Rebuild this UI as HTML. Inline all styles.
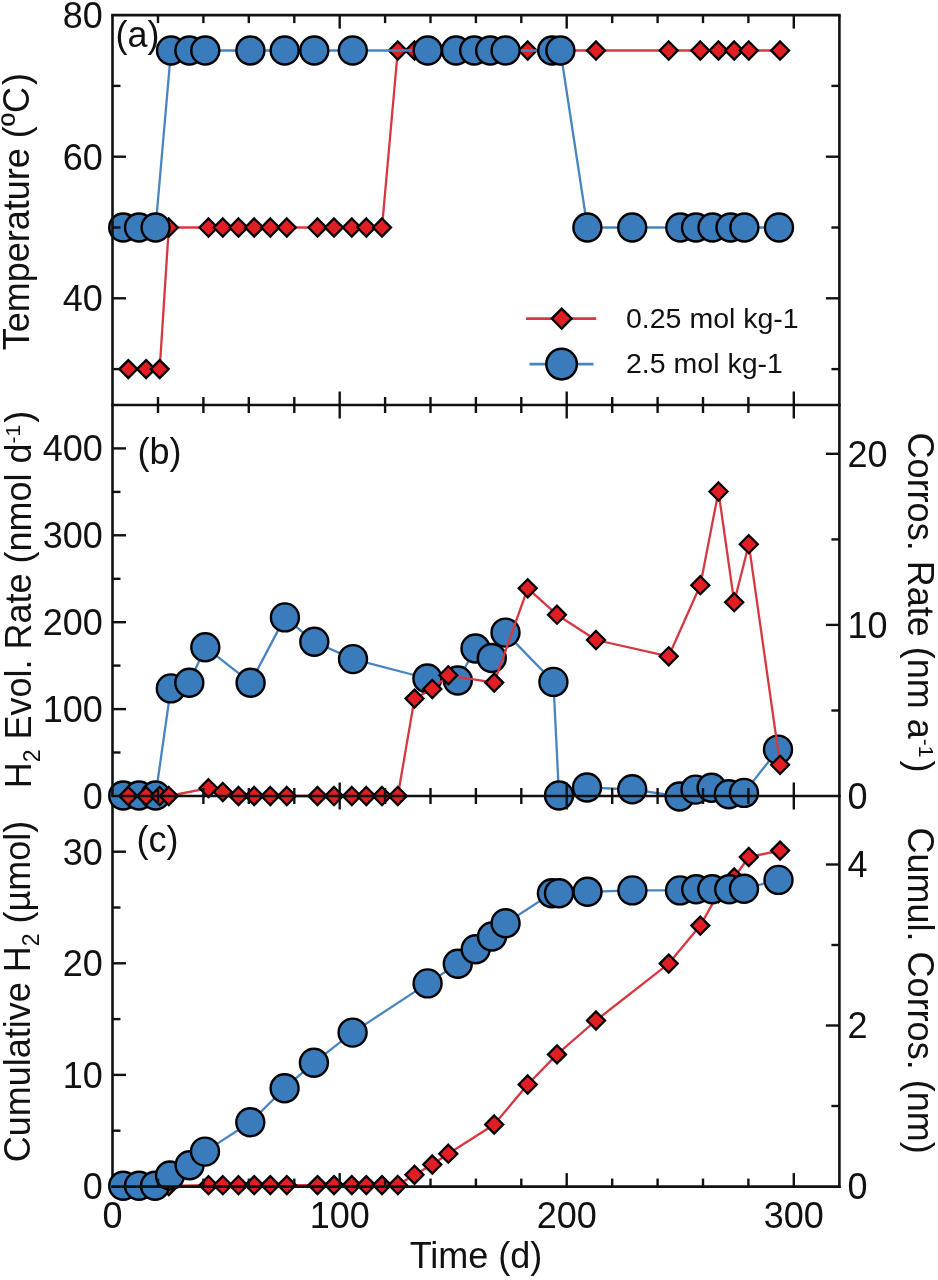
<!DOCTYPE html>
<html><head><meta charset="utf-8"><title>Figure</title>
<style>html,body{margin:0;padding:0;background:#fff;width:938px;height:1280px;overflow:hidden;font-family:"Liberation Sans",sans-serif;}svg{display:block;filter:blur(0.5px);}</style>
</head><body>
<svg width="938" height="1280" viewBox="0 0 938 1280">
<rect width="938" height="1280" fill="#fff"/>
<g font-family="Liberation Sans, sans-serif" fill="#111">
<line x1="112.5" y1="796.0" x2="112.5" y2="1187.9" stroke="#111" stroke-width="2.6"/>
<polyline points="128.3,369.1 146.1,369.1 159.7,369.1 168.8,227.5 208.5,227.5 222.8,227.5 238.5,227.5 254.2,227.5 270.3,227.5 286.8,227.5 317.5,227.5 334.0,227.5 351.8,227.5 366.3,227.5 382.0,227.5 397.8,50.5 414.5,50.5 432.3,50.5 448.3,50.5 494.2,50.5 527.7,50.5 557.0,50.5 596.0,50.5 668.7,50.5 700.3,50.5 718.5,50.5 734.2,50.5 748.8,50.5 780.1,50.5" fill="none" stroke="#d63841" stroke-width="2.3" stroke-linejoin="round"/>
<path d="M128.3 360.1L137.3 369.1L128.3 378.1L119.3 369.1Z" fill="#e01e24" stroke="#000" stroke-width="2.3" stroke-linejoin="miter"/>
<path d="M146.1 360.1L155.1 369.1L146.1 378.1L137.1 369.1Z" fill="#e01e24" stroke="#000" stroke-width="2.3" stroke-linejoin="miter"/>
<path d="M159.7 360.1L168.7 369.1L159.7 378.1L150.7 369.1Z" fill="#e01e24" stroke="#000" stroke-width="2.3" stroke-linejoin="miter"/>
<path d="M168.8 218.5L177.8 227.5L168.8 236.5L159.8 227.5Z" fill="#e01e24" stroke="#000" stroke-width="2.3" stroke-linejoin="miter"/>
<path d="M208.5 218.5L217.5 227.5L208.5 236.5L199.5 227.5Z" fill="#e01e24" stroke="#000" stroke-width="2.3" stroke-linejoin="miter"/>
<path d="M222.8 218.5L231.8 227.5L222.8 236.5L213.8 227.5Z" fill="#e01e24" stroke="#000" stroke-width="2.3" stroke-linejoin="miter"/>
<path d="M238.5 218.5L247.5 227.5L238.5 236.5L229.5 227.5Z" fill="#e01e24" stroke="#000" stroke-width="2.3" stroke-linejoin="miter"/>
<path d="M254.2 218.5L263.2 227.5L254.2 236.5L245.2 227.5Z" fill="#e01e24" stroke="#000" stroke-width="2.3" stroke-linejoin="miter"/>
<path d="M270.3 218.5L279.3 227.5L270.3 236.5L261.3 227.5Z" fill="#e01e24" stroke="#000" stroke-width="2.3" stroke-linejoin="miter"/>
<path d="M286.8 218.5L295.8 227.5L286.8 236.5L277.8 227.5Z" fill="#e01e24" stroke="#000" stroke-width="2.3" stroke-linejoin="miter"/>
<path d="M317.5 218.5L326.5 227.5L317.5 236.5L308.5 227.5Z" fill="#e01e24" stroke="#000" stroke-width="2.3" stroke-linejoin="miter"/>
<path d="M334.0 218.5L343.0 227.5L334.0 236.5L325.0 227.5Z" fill="#e01e24" stroke="#000" stroke-width="2.3" stroke-linejoin="miter"/>
<path d="M351.8 218.5L360.8 227.5L351.8 236.5L342.8 227.5Z" fill="#e01e24" stroke="#000" stroke-width="2.3" stroke-linejoin="miter"/>
<path d="M366.3 218.5L375.3 227.5L366.3 236.5L357.3 227.5Z" fill="#e01e24" stroke="#000" stroke-width="2.3" stroke-linejoin="miter"/>
<path d="M382.0 218.5L391.0 227.5L382.0 236.5L373.0 227.5Z" fill="#e01e24" stroke="#000" stroke-width="2.3" stroke-linejoin="miter"/>
<path d="M397.8 41.5L406.8 50.5L397.8 59.5L388.8 50.5Z" fill="#e01e24" stroke="#000" stroke-width="2.3" stroke-linejoin="miter"/>
<path d="M414.5 41.5L423.5 50.5L414.5 59.5L405.5 50.5Z" fill="#e01e24" stroke="#000" stroke-width="2.3" stroke-linejoin="miter"/>
<path d="M432.3 41.5L441.3 50.5L432.3 59.5L423.3 50.5Z" fill="#e01e24" stroke="#000" stroke-width="2.3" stroke-linejoin="miter"/>
<path d="M448.3 41.5L457.3 50.5L448.3 59.5L439.3 50.5Z" fill="#e01e24" stroke="#000" stroke-width="2.3" stroke-linejoin="miter"/>
<path d="M494.2 41.5L503.2 50.5L494.2 59.5L485.2 50.5Z" fill="#e01e24" stroke="#000" stroke-width="2.3" stroke-linejoin="miter"/>
<path d="M527.7 41.5L536.7 50.5L527.7 59.5L518.7 50.5Z" fill="#e01e24" stroke="#000" stroke-width="2.3" stroke-linejoin="miter"/>
<path d="M557.0 41.5L566.0 50.5L557.0 59.5L548.0 50.5Z" fill="#e01e24" stroke="#000" stroke-width="2.3" stroke-linejoin="miter"/>
<path d="M596.0 41.5L605.0 50.5L596.0 59.5L587.0 50.5Z" fill="#e01e24" stroke="#000" stroke-width="2.3" stroke-linejoin="miter"/>
<path d="M668.7 41.5L677.7 50.5L668.7 59.5L659.7 50.5Z" fill="#e01e24" stroke="#000" stroke-width="2.3" stroke-linejoin="miter"/>
<path d="M700.3 41.5L709.3 50.5L700.3 59.5L691.3 50.5Z" fill="#e01e24" stroke="#000" stroke-width="2.3" stroke-linejoin="miter"/>
<path d="M718.5 41.5L727.5 50.5L718.5 59.5L709.5 50.5Z" fill="#e01e24" stroke="#000" stroke-width="2.3" stroke-linejoin="miter"/>
<path d="M734.2 41.5L743.2 50.5L734.2 59.5L725.2 50.5Z" fill="#e01e24" stroke="#000" stroke-width="2.3" stroke-linejoin="miter"/>
<path d="M748.8 41.5L757.8 50.5L748.8 59.5L739.8 50.5Z" fill="#e01e24" stroke="#000" stroke-width="2.3" stroke-linejoin="miter"/>
<path d="M780.1 41.5L789.1 50.5L780.1 59.5L771.1 50.5Z" fill="#e01e24" stroke="#000" stroke-width="2.3" stroke-linejoin="miter"/>
<polyline points="123.2,227.5 139.0,227.5 155.6,227.5 171.0,50.5 189.4,50.5 205.3,50.5 250.4,50.5 284.7,50.5 314.3,50.5 352.8,50.5 427.7,50.5 456.0,50.5 474.2,50.5 490.2,50.5 505.6,50.5 552.2,50.5 560.4,50.5 587.4,227.5 632.2,227.5 680.3,227.5 696.0,227.5 712.5,227.5 730.5,227.5 744.4,227.5 779.0,227.5" fill="none" stroke="#4a84c0" stroke-width="2.3" stroke-linejoin="round"/>
<circle cx="123.2" cy="227.5" r="14.0" fill="#3a7bbb" stroke="#000" stroke-width="2.4"/>
<circle cx="139.0" cy="227.5" r="14.0" fill="#3a7bbb" stroke="#000" stroke-width="2.4"/>
<circle cx="155.6" cy="227.5" r="14.0" fill="#3a7bbb" stroke="#000" stroke-width="2.4"/>
<circle cx="171.0" cy="50.5" r="14.0" fill="#3a7bbb" stroke="#000" stroke-width="2.4"/>
<circle cx="189.4" cy="50.5" r="14.0" fill="#3a7bbb" stroke="#000" stroke-width="2.4"/>
<circle cx="205.3" cy="50.5" r="14.0" fill="#3a7bbb" stroke="#000" stroke-width="2.4"/>
<circle cx="250.4" cy="50.5" r="14.0" fill="#3a7bbb" stroke="#000" stroke-width="2.4"/>
<circle cx="284.7" cy="50.5" r="14.0" fill="#3a7bbb" stroke="#000" stroke-width="2.4"/>
<circle cx="314.3" cy="50.5" r="14.0" fill="#3a7bbb" stroke="#000" stroke-width="2.4"/>
<circle cx="352.8" cy="50.5" r="14.0" fill="#3a7bbb" stroke="#000" stroke-width="2.4"/>
<circle cx="427.7" cy="50.5" r="14.0" fill="#3a7bbb" stroke="#000" stroke-width="2.4"/>
<circle cx="456.0" cy="50.5" r="14.0" fill="#3a7bbb" stroke="#000" stroke-width="2.4"/>
<circle cx="474.2" cy="50.5" r="14.0" fill="#3a7bbb" stroke="#000" stroke-width="2.4"/>
<circle cx="490.2" cy="50.5" r="14.0" fill="#3a7bbb" stroke="#000" stroke-width="2.4"/>
<circle cx="505.6" cy="50.5" r="14.0" fill="#3a7bbb" stroke="#000" stroke-width="2.4"/>
<circle cx="552.2" cy="50.5" r="14.0" fill="#3a7bbb" stroke="#000" stroke-width="2.4"/>
<circle cx="560.4" cy="50.5" r="14.0" fill="#3a7bbb" stroke="#000" stroke-width="2.4"/>
<circle cx="587.4" cy="227.5" r="14.0" fill="#3a7bbb" stroke="#000" stroke-width="2.4"/>
<circle cx="632.2" cy="227.5" r="14.0" fill="#3a7bbb" stroke="#000" stroke-width="2.4"/>
<circle cx="680.3" cy="227.5" r="14.0" fill="#3a7bbb" stroke="#000" stroke-width="2.4"/>
<circle cx="696.0" cy="227.5" r="14.0" fill="#3a7bbb" stroke="#000" stroke-width="2.4"/>
<circle cx="712.5" cy="227.5" r="14.0" fill="#3a7bbb" stroke="#000" stroke-width="2.4"/>
<circle cx="730.5" cy="227.5" r="14.0" fill="#3a7bbb" stroke="#000" stroke-width="2.4"/>
<circle cx="744.4" cy="227.5" r="14.0" fill="#3a7bbb" stroke="#000" stroke-width="2.4"/>
<circle cx="779.0" cy="227.5" r="14.0" fill="#3a7bbb" stroke="#000" stroke-width="2.4"/>
<polyline points="123.2,795.5 139.0,795.5 155.6,795.5 170.8,688.4 189.3,682.7 205.3,647.2 250.6,682.7 284.9,617.4 314.3,641.8 353.0,659.1 427.4,678.5 457.8,680.5 475.5,648.5 491.8,658.0 505.5,632.6 553.4,681.9 559.0,795.5 587.0,787.5 632.2,789.3 679.6,796.5 695.5,789.6 711.6,787.8 728.8,794.2 744.0,792.9 778.0,749.6" fill="none" stroke="#4a84c0" stroke-width="2.3" stroke-linejoin="round"/>
<circle cx="123.2" cy="795.5" r="14.0" fill="#3a7bbb" stroke="#000" stroke-width="2.4"/>
<circle cx="139.0" cy="795.5" r="14.0" fill="#3a7bbb" stroke="#000" stroke-width="2.4"/>
<circle cx="155.6" cy="795.5" r="14.0" fill="#3a7bbb" stroke="#000" stroke-width="2.4"/>
<circle cx="170.8" cy="688.4" r="14.0" fill="#3a7bbb" stroke="#000" stroke-width="2.4"/>
<circle cx="189.3" cy="682.7" r="14.0" fill="#3a7bbb" stroke="#000" stroke-width="2.4"/>
<circle cx="205.3" cy="647.2" r="14.0" fill="#3a7bbb" stroke="#000" stroke-width="2.4"/>
<circle cx="250.6" cy="682.7" r="14.0" fill="#3a7bbb" stroke="#000" stroke-width="2.4"/>
<circle cx="284.9" cy="617.4" r="14.0" fill="#3a7bbb" stroke="#000" stroke-width="2.4"/>
<circle cx="314.3" cy="641.8" r="14.0" fill="#3a7bbb" stroke="#000" stroke-width="2.4"/>
<circle cx="353.0" cy="659.1" r="14.0" fill="#3a7bbb" stroke="#000" stroke-width="2.4"/>
<circle cx="427.4" cy="678.5" r="14.0" fill="#3a7bbb" stroke="#000" stroke-width="2.4"/>
<circle cx="457.8" cy="680.5" r="14.0" fill="#3a7bbb" stroke="#000" stroke-width="2.4"/>
<circle cx="475.5" cy="648.5" r="14.0" fill="#3a7bbb" stroke="#000" stroke-width="2.4"/>
<circle cx="491.8" cy="658.0" r="14.0" fill="#3a7bbb" stroke="#000" stroke-width="2.4"/>
<circle cx="505.5" cy="632.6" r="14.0" fill="#3a7bbb" stroke="#000" stroke-width="2.4"/>
<circle cx="553.4" cy="681.9" r="14.0" fill="#3a7bbb" stroke="#000" stroke-width="2.4"/>
<circle cx="559.0" cy="795.5" r="14.0" fill="#3a7bbb" stroke="#000" stroke-width="2.4"/>
<circle cx="587.0" cy="787.5" r="14.0" fill="#3a7bbb" stroke="#000" stroke-width="2.4"/>
<circle cx="632.2" cy="789.3" r="14.0" fill="#3a7bbb" stroke="#000" stroke-width="2.4"/>
<circle cx="679.6" cy="796.5" r="14.0" fill="#3a7bbb" stroke="#000" stroke-width="2.4"/>
<circle cx="695.5" cy="789.6" r="14.0" fill="#3a7bbb" stroke="#000" stroke-width="2.4"/>
<circle cx="711.6" cy="787.8" r="14.0" fill="#3a7bbb" stroke="#000" stroke-width="2.4"/>
<circle cx="728.8" cy="794.2" r="14.0" fill="#3a7bbb" stroke="#000" stroke-width="2.4"/>
<circle cx="744.0" cy="792.9" r="14.0" fill="#3a7bbb" stroke="#000" stroke-width="2.4"/>
<circle cx="778.0" cy="749.6" r="14.0" fill="#3a7bbb" stroke="#000" stroke-width="2.4"/>
<polyline points="128.3,796.0 146.1,796.0 159.7,796.0 168.8,796.0 208.5,788.2 222.8,792.0 238.5,796.0 254.2,796.0 270.3,796.0 286.8,796.0 317.5,796.0 334.0,796.0 351.8,796.0 366.3,796.0 382.0,796.0 397.8,796.0 414.5,698.6 432.3,689.0 448.3,675.3 494.2,682.6 527.7,588.3 557.0,614.7 596.0,640.0 668.7,656.3 700.3,585.2 718.5,491.5 734.2,602.2 748.8,544.2 780.1,764.8" fill="none" stroke="#d63841" stroke-width="2.3" stroke-linejoin="round"/>
<path d="M128.3 787.0L137.3 796.0L128.3 805.0L119.3 796.0Z" fill="#e01e24" stroke="#000" stroke-width="2.3" stroke-linejoin="miter"/>
<path d="M146.1 787.0L155.1 796.0L146.1 805.0L137.1 796.0Z" fill="#e01e24" stroke="#000" stroke-width="2.3" stroke-linejoin="miter"/>
<path d="M159.7 787.0L168.7 796.0L159.7 805.0L150.7 796.0Z" fill="#e01e24" stroke="#000" stroke-width="2.3" stroke-linejoin="miter"/>
<path d="M168.8 787.0L177.8 796.0L168.8 805.0L159.8 796.0Z" fill="#e01e24" stroke="#000" stroke-width="2.3" stroke-linejoin="miter"/>
<path d="M208.5 779.2L217.5 788.2L208.5 797.2L199.5 788.2Z" fill="#e01e24" stroke="#000" stroke-width="2.3" stroke-linejoin="miter"/>
<path d="M222.8 783.0L231.8 792.0L222.8 801.0L213.8 792.0Z" fill="#e01e24" stroke="#000" stroke-width="2.3" stroke-linejoin="miter"/>
<path d="M238.5 787.0L247.5 796.0L238.5 805.0L229.5 796.0Z" fill="#e01e24" stroke="#000" stroke-width="2.3" stroke-linejoin="miter"/>
<path d="M254.2 787.0L263.2 796.0L254.2 805.0L245.2 796.0Z" fill="#e01e24" stroke="#000" stroke-width="2.3" stroke-linejoin="miter"/>
<path d="M270.3 787.0L279.3 796.0L270.3 805.0L261.3 796.0Z" fill="#e01e24" stroke="#000" stroke-width="2.3" stroke-linejoin="miter"/>
<path d="M286.8 787.0L295.8 796.0L286.8 805.0L277.8 796.0Z" fill="#e01e24" stroke="#000" stroke-width="2.3" stroke-linejoin="miter"/>
<path d="M317.5 787.0L326.5 796.0L317.5 805.0L308.5 796.0Z" fill="#e01e24" stroke="#000" stroke-width="2.3" stroke-linejoin="miter"/>
<path d="M334.0 787.0L343.0 796.0L334.0 805.0L325.0 796.0Z" fill="#e01e24" stroke="#000" stroke-width="2.3" stroke-linejoin="miter"/>
<path d="M351.8 787.0L360.8 796.0L351.8 805.0L342.8 796.0Z" fill="#e01e24" stroke="#000" stroke-width="2.3" stroke-linejoin="miter"/>
<path d="M366.3 787.0L375.3 796.0L366.3 805.0L357.3 796.0Z" fill="#e01e24" stroke="#000" stroke-width="2.3" stroke-linejoin="miter"/>
<path d="M382.0 787.0L391.0 796.0L382.0 805.0L373.0 796.0Z" fill="#e01e24" stroke="#000" stroke-width="2.3" stroke-linejoin="miter"/>
<path d="M397.8 787.0L406.8 796.0L397.8 805.0L388.8 796.0Z" fill="#e01e24" stroke="#000" stroke-width="2.3" stroke-linejoin="miter"/>
<path d="M414.5 689.6L423.5 698.6L414.5 707.6L405.5 698.6Z" fill="#e01e24" stroke="#000" stroke-width="2.3" stroke-linejoin="miter"/>
<path d="M432.3 680.0L441.3 689.0L432.3 698.0L423.3 689.0Z" fill="#e01e24" stroke="#000" stroke-width="2.3" stroke-linejoin="miter"/>
<path d="M448.3 666.3L457.3 675.3L448.3 684.3L439.3 675.3Z" fill="#e01e24" stroke="#000" stroke-width="2.3" stroke-linejoin="miter"/>
<path d="M494.2 673.6L503.2 682.6L494.2 691.6L485.2 682.6Z" fill="#e01e24" stroke="#000" stroke-width="2.3" stroke-linejoin="miter"/>
<path d="M527.7 579.3L536.7 588.3L527.7 597.3L518.7 588.3Z" fill="#e01e24" stroke="#000" stroke-width="2.3" stroke-linejoin="miter"/>
<path d="M557.0 605.7L566.0 614.7L557.0 623.7L548.0 614.7Z" fill="#e01e24" stroke="#000" stroke-width="2.3" stroke-linejoin="miter"/>
<path d="M596.0 631.0L605.0 640.0L596.0 649.0L587.0 640.0Z" fill="#e01e24" stroke="#000" stroke-width="2.3" stroke-linejoin="miter"/>
<path d="M668.7 647.3L677.7 656.3L668.7 665.3L659.7 656.3Z" fill="#e01e24" stroke="#000" stroke-width="2.3" stroke-linejoin="miter"/>
<path d="M700.3 576.2L709.3 585.2L700.3 594.2L691.3 585.2Z" fill="#e01e24" stroke="#000" stroke-width="2.3" stroke-linejoin="miter"/>
<path d="M718.5 482.5L727.5 491.5L718.5 500.5L709.5 491.5Z" fill="#e01e24" stroke="#000" stroke-width="2.3" stroke-linejoin="miter"/>
<path d="M734.2 593.2L743.2 602.2L734.2 611.2L725.2 602.2Z" fill="#e01e24" stroke="#000" stroke-width="2.3" stroke-linejoin="miter"/>
<path d="M748.8 535.2L757.8 544.2L748.8 553.2L739.8 544.2Z" fill="#e01e24" stroke="#000" stroke-width="2.3" stroke-linejoin="miter"/>
<path d="M780.1 755.8L789.1 764.8L780.1 773.8L771.1 764.8Z" fill="#e01e24" stroke="#000" stroke-width="2.3" stroke-linejoin="miter"/>
<polyline points="128.3,1186.0 146.1,1186.0 159.7,1186.0 168.8,1186.0 208.5,1185.2 222.8,1185.2 238.5,1185.2 254.2,1185.1 270.3,1185.1 286.8,1185.1 317.5,1185.1 334.0,1185.1 351.8,1185.1 366.3,1185.1 382.0,1185.1 397.8,1185.0 414.5,1174.8 432.3,1164.5 448.3,1153.7 494.2,1124.5 527.7,1084.5 557.0,1054.4 596.0,1020.5 668.7,963.6 700.3,925.6 718.5,893.0 734.2,877.5 748.8,857.0 780.1,850.6" fill="none" stroke="#d63841" stroke-width="2.3" stroke-linejoin="round"/>
<path d="M128.3 1177.0L137.3 1186.0L128.3 1195.0L119.3 1186.0Z" fill="#e01e24" stroke="#000" stroke-width="2.3" stroke-linejoin="miter"/>
<path d="M146.1 1177.0L155.1 1186.0L146.1 1195.0L137.1 1186.0Z" fill="#e01e24" stroke="#000" stroke-width="2.3" stroke-linejoin="miter"/>
<path d="M159.7 1177.0L168.7 1186.0L159.7 1195.0L150.7 1186.0Z" fill="#e01e24" stroke="#000" stroke-width="2.3" stroke-linejoin="miter"/>
<path d="M168.8 1177.0L177.8 1186.0L168.8 1195.0L159.8 1186.0Z" fill="#e01e24" stroke="#000" stroke-width="2.3" stroke-linejoin="miter"/>
<path d="M208.5 1176.2L217.5 1185.2L208.5 1194.2L199.5 1185.2Z" fill="#e01e24" stroke="#000" stroke-width="2.3" stroke-linejoin="miter"/>
<path d="M222.8 1176.2L231.8 1185.2L222.8 1194.2L213.8 1185.2Z" fill="#e01e24" stroke="#000" stroke-width="2.3" stroke-linejoin="miter"/>
<path d="M238.5 1176.2L247.5 1185.2L238.5 1194.2L229.5 1185.2Z" fill="#e01e24" stroke="#000" stroke-width="2.3" stroke-linejoin="miter"/>
<path d="M254.2 1176.1L263.2 1185.1L254.2 1194.1L245.2 1185.1Z" fill="#e01e24" stroke="#000" stroke-width="2.3" stroke-linejoin="miter"/>
<path d="M270.3 1176.1L279.3 1185.1L270.3 1194.1L261.3 1185.1Z" fill="#e01e24" stroke="#000" stroke-width="2.3" stroke-linejoin="miter"/>
<path d="M286.8 1176.1L295.8 1185.1L286.8 1194.1L277.8 1185.1Z" fill="#e01e24" stroke="#000" stroke-width="2.3" stroke-linejoin="miter"/>
<path d="M317.5 1176.1L326.5 1185.1L317.5 1194.1L308.5 1185.1Z" fill="#e01e24" stroke="#000" stroke-width="2.3" stroke-linejoin="miter"/>
<path d="M334.0 1176.1L343.0 1185.1L334.0 1194.1L325.0 1185.1Z" fill="#e01e24" stroke="#000" stroke-width="2.3" stroke-linejoin="miter"/>
<path d="M351.8 1176.1L360.8 1185.1L351.8 1194.1L342.8 1185.1Z" fill="#e01e24" stroke="#000" stroke-width="2.3" stroke-linejoin="miter"/>
<path d="M366.3 1176.1L375.3 1185.1L366.3 1194.1L357.3 1185.1Z" fill="#e01e24" stroke="#000" stroke-width="2.3" stroke-linejoin="miter"/>
<path d="M382.0 1176.1L391.0 1185.1L382.0 1194.1L373.0 1185.1Z" fill="#e01e24" stroke="#000" stroke-width="2.3" stroke-linejoin="miter"/>
<path d="M397.8 1176.0L406.8 1185.0L397.8 1194.0L388.8 1185.0Z" fill="#e01e24" stroke="#000" stroke-width="2.3" stroke-linejoin="miter"/>
<path d="M414.5 1165.8L423.5 1174.8L414.5 1183.8L405.5 1174.8Z" fill="#e01e24" stroke="#000" stroke-width="2.3" stroke-linejoin="miter"/>
<path d="M432.3 1155.5L441.3 1164.5L432.3 1173.5L423.3 1164.5Z" fill="#e01e24" stroke="#000" stroke-width="2.3" stroke-linejoin="miter"/>
<path d="M448.3 1144.7L457.3 1153.7L448.3 1162.7L439.3 1153.7Z" fill="#e01e24" stroke="#000" stroke-width="2.3" stroke-linejoin="miter"/>
<path d="M494.2 1115.5L503.2 1124.5L494.2 1133.5L485.2 1124.5Z" fill="#e01e24" stroke="#000" stroke-width="2.3" stroke-linejoin="miter"/>
<path d="M527.7 1075.5L536.7 1084.5L527.7 1093.5L518.7 1084.5Z" fill="#e01e24" stroke="#000" stroke-width="2.3" stroke-linejoin="miter"/>
<path d="M557.0 1045.4L566.0 1054.4L557.0 1063.4L548.0 1054.4Z" fill="#e01e24" stroke="#000" stroke-width="2.3" stroke-linejoin="miter"/>
<path d="M596.0 1011.5L605.0 1020.5L596.0 1029.5L587.0 1020.5Z" fill="#e01e24" stroke="#000" stroke-width="2.3" stroke-linejoin="miter"/>
<path d="M668.7 954.6L677.7 963.6L668.7 972.6L659.7 963.6Z" fill="#e01e24" stroke="#000" stroke-width="2.3" stroke-linejoin="miter"/>
<path d="M700.3 916.6L709.3 925.6L700.3 934.6L691.3 925.6Z" fill="#e01e24" stroke="#000" stroke-width="2.3" stroke-linejoin="miter"/>
<path d="M718.5 884.0L727.5 893.0L718.5 902.0L709.5 893.0Z" fill="#e01e24" stroke="#000" stroke-width="2.3" stroke-linejoin="miter"/>
<path d="M734.2 868.5L743.2 877.5L734.2 886.5L725.2 877.5Z" fill="#e01e24" stroke="#000" stroke-width="2.3" stroke-linejoin="miter"/>
<path d="M748.8 848.0L757.8 857.0L748.8 866.0L739.8 857.0Z" fill="#e01e24" stroke="#000" stroke-width="2.3" stroke-linejoin="miter"/>
<path d="M780.1 841.6L789.1 850.6L780.1 859.6L771.1 850.6Z" fill="#e01e24" stroke="#000" stroke-width="2.3" stroke-linejoin="miter"/>
<polyline points="123.2,1185.8 139.0,1185.8 155.0,1185.8 170.0,1175.5 189.6,1165.3 205.0,1151.6 250.3,1122.2 284.6,1088.2 313.9,1062.7 352.6,1032.6 427.6,983.4 457.8,963.8 475.7,949.3 492.0,936.5 505.6,923.3 551.9,893.2 559.0,893.2 587.5,891.8 632.4,890.4 680.0,890.4 696.2,889.3 712.3,889.3 729.2,889.3 744.0,888.8 778.5,879.9" fill="none" stroke="#4a84c0" stroke-width="2.3" stroke-linejoin="round"/>
<circle cx="123.2" cy="1185.8" r="14.0" fill="#3a7bbb" stroke="#000" stroke-width="2.4"/>
<circle cx="139.0" cy="1185.8" r="14.0" fill="#3a7bbb" stroke="#000" stroke-width="2.4"/>
<circle cx="155.0" cy="1185.8" r="14.0" fill="#3a7bbb" stroke="#000" stroke-width="2.4"/>
<circle cx="170.0" cy="1175.5" r="14.0" fill="#3a7bbb" stroke="#000" stroke-width="2.4"/>
<circle cx="189.6" cy="1165.3" r="14.0" fill="#3a7bbb" stroke="#000" stroke-width="2.4"/>
<circle cx="205.0" cy="1151.6" r="14.0" fill="#3a7bbb" stroke="#000" stroke-width="2.4"/>
<circle cx="250.3" cy="1122.2" r="14.0" fill="#3a7bbb" stroke="#000" stroke-width="2.4"/>
<circle cx="284.6" cy="1088.2" r="14.0" fill="#3a7bbb" stroke="#000" stroke-width="2.4"/>
<circle cx="313.9" cy="1062.7" r="14.0" fill="#3a7bbb" stroke="#000" stroke-width="2.4"/>
<circle cx="352.6" cy="1032.6" r="14.0" fill="#3a7bbb" stroke="#000" stroke-width="2.4"/>
<circle cx="427.6" cy="983.4" r="14.0" fill="#3a7bbb" stroke="#000" stroke-width="2.4"/>
<circle cx="457.8" cy="963.8" r="14.0" fill="#3a7bbb" stroke="#000" stroke-width="2.4"/>
<circle cx="475.7" cy="949.3" r="14.0" fill="#3a7bbb" stroke="#000" stroke-width="2.4"/>
<circle cx="492.0" cy="936.5" r="14.0" fill="#3a7bbb" stroke="#000" stroke-width="2.4"/>
<circle cx="505.6" cy="923.3" r="14.0" fill="#3a7bbb" stroke="#000" stroke-width="2.4"/>
<circle cx="551.9" cy="893.2" r="14.0" fill="#3a7bbb" stroke="#000" stroke-width="2.4"/>
<circle cx="559.0" cy="893.2" r="14.0" fill="#3a7bbb" stroke="#000" stroke-width="2.4"/>
<circle cx="587.5" cy="891.8" r="14.0" fill="#3a7bbb" stroke="#000" stroke-width="2.4"/>
<circle cx="632.4" cy="890.4" r="14.0" fill="#3a7bbb" stroke="#000" stroke-width="2.4"/>
<circle cx="680.0" cy="890.4" r="14.0" fill="#3a7bbb" stroke="#000" stroke-width="2.4"/>
<circle cx="696.2" cy="889.3" r="14.0" fill="#3a7bbb" stroke="#000" stroke-width="2.4"/>
<circle cx="712.3" cy="889.3" r="14.0" fill="#3a7bbb" stroke="#000" stroke-width="2.4"/>
<circle cx="729.2" cy="889.3" r="14.0" fill="#3a7bbb" stroke="#000" stroke-width="2.4"/>
<circle cx="744.0" cy="888.8" r="14.0" fill="#3a7bbb" stroke="#000" stroke-width="2.4"/>
<circle cx="778.5" cy="879.9" r="14.0" fill="#3a7bbb" stroke="#000" stroke-width="2.4"/>
<line x1="111.2" y1="15.1" x2="840.7" y2="15.1" stroke="#111" stroke-width="2.6"/>
<line x1="112.5" y1="15.1" x2="112.5" y2="796.0" stroke="#111" stroke-width="2.6"/>
<line x1="839.4" y1="15.1" x2="839.4" y2="1187.9" stroke="#111" stroke-width="2.6"/>
<line x1="111.2" y1="405.0" x2="840.7" y2="405.0" stroke="#111" stroke-width="2.6"/>
<line x1="111.2" y1="796.0" x2="840.7" y2="796.0" stroke="#111" stroke-width="2.6"/>
<line x1="111.2" y1="1186.6" x2="840.7" y2="1186.6" stroke="#111" stroke-width="2.6"/>
<line x1="158.0" y1="15.1" x2="158.0" y2="23.1" stroke="#111" stroke-width="2.4"/>
<line x1="158.0" y1="405.0" x2="158.0" y2="397.0" stroke="#111" stroke-width="2.4"/>
<line x1="203.4" y1="15.1" x2="203.4" y2="23.1" stroke="#111" stroke-width="2.4"/>
<line x1="203.4" y1="405.0" x2="203.4" y2="397.0" stroke="#111" stroke-width="2.4"/>
<line x1="248.8" y1="15.1" x2="248.8" y2="23.1" stroke="#111" stroke-width="2.4"/>
<line x1="248.8" y1="405.0" x2="248.8" y2="397.0" stroke="#111" stroke-width="2.4"/>
<line x1="294.3" y1="15.1" x2="294.3" y2="23.1" stroke="#111" stroke-width="2.4"/>
<line x1="294.3" y1="405.0" x2="294.3" y2="397.0" stroke="#111" stroke-width="2.4"/>
<line x1="339.7" y1="15.1" x2="339.7" y2="28.6" stroke="#111" stroke-width="2.4"/>
<line x1="339.7" y1="405.0" x2="339.7" y2="391.5" stroke="#111" stroke-width="2.4"/>
<line x1="385.1" y1="15.1" x2="385.1" y2="23.1" stroke="#111" stroke-width="2.4"/>
<line x1="385.1" y1="405.0" x2="385.1" y2="397.0" stroke="#111" stroke-width="2.4"/>
<line x1="430.5" y1="15.1" x2="430.5" y2="23.1" stroke="#111" stroke-width="2.4"/>
<line x1="430.5" y1="405.0" x2="430.5" y2="397.0" stroke="#111" stroke-width="2.4"/>
<line x1="475.9" y1="15.1" x2="475.9" y2="23.1" stroke="#111" stroke-width="2.4"/>
<line x1="475.9" y1="405.0" x2="475.9" y2="397.0" stroke="#111" stroke-width="2.4"/>
<line x1="521.3" y1="15.1" x2="521.3" y2="23.1" stroke="#111" stroke-width="2.4"/>
<line x1="521.3" y1="405.0" x2="521.3" y2="397.0" stroke="#111" stroke-width="2.4"/>
<line x1="566.7" y1="15.1" x2="566.7" y2="28.6" stroke="#111" stroke-width="2.4"/>
<line x1="566.7" y1="405.0" x2="566.7" y2="391.5" stroke="#111" stroke-width="2.4"/>
<line x1="612.2" y1="15.1" x2="612.2" y2="23.1" stroke="#111" stroke-width="2.4"/>
<line x1="612.2" y1="405.0" x2="612.2" y2="397.0" stroke="#111" stroke-width="2.4"/>
<line x1="657.6" y1="15.1" x2="657.6" y2="23.1" stroke="#111" stroke-width="2.4"/>
<line x1="657.6" y1="405.0" x2="657.6" y2="397.0" stroke="#111" stroke-width="2.4"/>
<line x1="703.0" y1="15.1" x2="703.0" y2="23.1" stroke="#111" stroke-width="2.4"/>
<line x1="703.0" y1="405.0" x2="703.0" y2="397.0" stroke="#111" stroke-width="2.4"/>
<line x1="748.4" y1="15.1" x2="748.4" y2="23.1" stroke="#111" stroke-width="2.4"/>
<line x1="748.4" y1="405.0" x2="748.4" y2="397.0" stroke="#111" stroke-width="2.4"/>
<line x1="793.8" y1="15.1" x2="793.8" y2="28.6" stroke="#111" stroke-width="2.4"/>
<line x1="793.8" y1="405.0" x2="793.8" y2="391.5" stroke="#111" stroke-width="2.4"/>
<line x1="158.0" y1="405.0" x2="158.0" y2="413.0" stroke="#111" stroke-width="2.4"/>
<line x1="158.0" y1="796.0" x2="158.0" y2="788.0" stroke="#111" stroke-width="2.4"/>
<line x1="203.4" y1="405.0" x2="203.4" y2="413.0" stroke="#111" stroke-width="2.4"/>
<line x1="203.4" y1="796.0" x2="203.4" y2="788.0" stroke="#111" stroke-width="2.4"/>
<line x1="248.8" y1="405.0" x2="248.8" y2="413.0" stroke="#111" stroke-width="2.4"/>
<line x1="248.8" y1="796.0" x2="248.8" y2="788.0" stroke="#111" stroke-width="2.4"/>
<line x1="294.3" y1="405.0" x2="294.3" y2="413.0" stroke="#111" stroke-width="2.4"/>
<line x1="294.3" y1="796.0" x2="294.3" y2="788.0" stroke="#111" stroke-width="2.4"/>
<line x1="339.7" y1="405.0" x2="339.7" y2="418.5" stroke="#111" stroke-width="2.4"/>
<line x1="339.7" y1="796.0" x2="339.7" y2="782.5" stroke="#111" stroke-width="2.4"/>
<line x1="385.1" y1="405.0" x2="385.1" y2="413.0" stroke="#111" stroke-width="2.4"/>
<line x1="385.1" y1="796.0" x2="385.1" y2="788.0" stroke="#111" stroke-width="2.4"/>
<line x1="430.5" y1="405.0" x2="430.5" y2="413.0" stroke="#111" stroke-width="2.4"/>
<line x1="430.5" y1="796.0" x2="430.5" y2="788.0" stroke="#111" stroke-width="2.4"/>
<line x1="475.9" y1="405.0" x2="475.9" y2="413.0" stroke="#111" stroke-width="2.4"/>
<line x1="475.9" y1="796.0" x2="475.9" y2="788.0" stroke="#111" stroke-width="2.4"/>
<line x1="521.3" y1="405.0" x2="521.3" y2="413.0" stroke="#111" stroke-width="2.4"/>
<line x1="521.3" y1="796.0" x2="521.3" y2="788.0" stroke="#111" stroke-width="2.4"/>
<line x1="566.7" y1="405.0" x2="566.7" y2="418.5" stroke="#111" stroke-width="2.4"/>
<line x1="566.7" y1="796.0" x2="566.7" y2="782.5" stroke="#111" stroke-width="2.4"/>
<line x1="612.2" y1="405.0" x2="612.2" y2="413.0" stroke="#111" stroke-width="2.4"/>
<line x1="612.2" y1="796.0" x2="612.2" y2="788.0" stroke="#111" stroke-width="2.4"/>
<line x1="657.6" y1="405.0" x2="657.6" y2="413.0" stroke="#111" stroke-width="2.4"/>
<line x1="657.6" y1="796.0" x2="657.6" y2="788.0" stroke="#111" stroke-width="2.4"/>
<line x1="703.0" y1="405.0" x2="703.0" y2="413.0" stroke="#111" stroke-width="2.4"/>
<line x1="703.0" y1="796.0" x2="703.0" y2="788.0" stroke="#111" stroke-width="2.4"/>
<line x1="748.4" y1="405.0" x2="748.4" y2="413.0" stroke="#111" stroke-width="2.4"/>
<line x1="748.4" y1="796.0" x2="748.4" y2="788.0" stroke="#111" stroke-width="2.4"/>
<line x1="793.8" y1="405.0" x2="793.8" y2="418.5" stroke="#111" stroke-width="2.4"/>
<line x1="793.8" y1="796.0" x2="793.8" y2="782.5" stroke="#111" stroke-width="2.4"/>
<line x1="158.0" y1="796.0" x2="158.0" y2="804.0" stroke="#111" stroke-width="2.4"/>
<line x1="158.0" y1="1186.6" x2="158.0" y2="1178.6" stroke="#111" stroke-width="2.4"/>
<line x1="203.4" y1="796.0" x2="203.4" y2="804.0" stroke="#111" stroke-width="2.4"/>
<line x1="203.4" y1="1186.6" x2="203.4" y2="1178.6" stroke="#111" stroke-width="2.4"/>
<line x1="248.8" y1="796.0" x2="248.8" y2="804.0" stroke="#111" stroke-width="2.4"/>
<line x1="248.8" y1="1186.6" x2="248.8" y2="1178.6" stroke="#111" stroke-width="2.4"/>
<line x1="294.3" y1="796.0" x2="294.3" y2="804.0" stroke="#111" stroke-width="2.4"/>
<line x1="294.3" y1="1186.6" x2="294.3" y2="1178.6" stroke="#111" stroke-width="2.4"/>
<line x1="339.7" y1="796.0" x2="339.7" y2="809.5" stroke="#111" stroke-width="2.4"/>
<line x1="339.7" y1="1186.6" x2="339.7" y2="1173.1" stroke="#111" stroke-width="2.4"/>
<line x1="385.1" y1="796.0" x2="385.1" y2="804.0" stroke="#111" stroke-width="2.4"/>
<line x1="385.1" y1="1186.6" x2="385.1" y2="1178.6" stroke="#111" stroke-width="2.4"/>
<line x1="430.5" y1="796.0" x2="430.5" y2="804.0" stroke="#111" stroke-width="2.4"/>
<line x1="430.5" y1="1186.6" x2="430.5" y2="1178.6" stroke="#111" stroke-width="2.4"/>
<line x1="475.9" y1="796.0" x2="475.9" y2="804.0" stroke="#111" stroke-width="2.4"/>
<line x1="475.9" y1="1186.6" x2="475.9" y2="1178.6" stroke="#111" stroke-width="2.4"/>
<line x1="521.3" y1="796.0" x2="521.3" y2="804.0" stroke="#111" stroke-width="2.4"/>
<line x1="521.3" y1="1186.6" x2="521.3" y2="1178.6" stroke="#111" stroke-width="2.4"/>
<line x1="566.7" y1="796.0" x2="566.7" y2="809.5" stroke="#111" stroke-width="2.4"/>
<line x1="566.7" y1="1186.6" x2="566.7" y2="1173.1" stroke="#111" stroke-width="2.4"/>
<line x1="612.2" y1="796.0" x2="612.2" y2="804.0" stroke="#111" stroke-width="2.4"/>
<line x1="612.2" y1="1186.6" x2="612.2" y2="1178.6" stroke="#111" stroke-width="2.4"/>
<line x1="657.6" y1="796.0" x2="657.6" y2="804.0" stroke="#111" stroke-width="2.4"/>
<line x1="657.6" y1="1186.6" x2="657.6" y2="1178.6" stroke="#111" stroke-width="2.4"/>
<line x1="703.0" y1="796.0" x2="703.0" y2="804.0" stroke="#111" stroke-width="2.4"/>
<line x1="703.0" y1="1186.6" x2="703.0" y2="1178.6" stroke="#111" stroke-width="2.4"/>
<line x1="748.4" y1="796.0" x2="748.4" y2="804.0" stroke="#111" stroke-width="2.4"/>
<line x1="748.4" y1="1186.6" x2="748.4" y2="1178.6" stroke="#111" stroke-width="2.4"/>
<line x1="793.8" y1="796.0" x2="793.8" y2="809.5" stroke="#111" stroke-width="2.4"/>
<line x1="793.8" y1="1186.6" x2="793.8" y2="1173.1" stroke="#111" stroke-width="2.4"/>
<line x1="112.5" y1="298.3" x2="126.0" y2="298.3" stroke="#111" stroke-width="2.4"/>
<line x1="112.5" y1="156.7" x2="126.0" y2="156.7" stroke="#111" stroke-width="2.4"/>
<line x1="112.5" y1="369.1" x2="120.5" y2="369.1" stroke="#111" stroke-width="2.4"/>
<line x1="112.5" y1="227.5" x2="120.5" y2="227.5" stroke="#111" stroke-width="2.4"/>
<line x1="112.5" y1="85.9" x2="120.5" y2="85.9" stroke="#111" stroke-width="2.4"/>
<line x1="839.4" y1="298.3" x2="825.9" y2="298.3" stroke="#111" stroke-width="2.4"/>
<line x1="839.4" y1="156.7" x2="825.9" y2="156.7" stroke="#111" stroke-width="2.4"/>
<line x1="839.4" y1="369.1" x2="831.4" y2="369.1" stroke="#111" stroke-width="2.4"/>
<line x1="839.4" y1="227.5" x2="831.4" y2="227.5" stroke="#111" stroke-width="2.4"/>
<line x1="839.4" y1="85.9" x2="831.4" y2="85.9" stroke="#111" stroke-width="2.4"/>
<line x1="112.5" y1="709.1" x2="126.0" y2="709.1" stroke="#111" stroke-width="2.4"/>
<line x1="112.5" y1="622.2" x2="126.0" y2="622.2" stroke="#111" stroke-width="2.4"/>
<line x1="112.5" y1="535.3" x2="126.0" y2="535.3" stroke="#111" stroke-width="2.4"/>
<line x1="112.5" y1="448.4" x2="126.0" y2="448.4" stroke="#111" stroke-width="2.4"/>
<line x1="112.5" y1="752.5" x2="120.5" y2="752.5" stroke="#111" stroke-width="2.4"/>
<line x1="112.5" y1="665.6" x2="120.5" y2="665.6" stroke="#111" stroke-width="2.4"/>
<line x1="112.5" y1="578.8" x2="120.5" y2="578.8" stroke="#111" stroke-width="2.4"/>
<line x1="112.5" y1="491.9" x2="120.5" y2="491.9" stroke="#111" stroke-width="2.4"/>
<line x1="839.4" y1="624.9" x2="825.9" y2="624.9" stroke="#111" stroke-width="2.4"/>
<line x1="839.4" y1="453.8" x2="825.9" y2="453.8" stroke="#111" stroke-width="2.4"/>
<line x1="839.4" y1="710.5" x2="831.4" y2="710.5" stroke="#111" stroke-width="2.4"/>
<line x1="839.4" y1="539.4" x2="831.4" y2="539.4" stroke="#111" stroke-width="2.4"/>
<line x1="112.5" y1="1074.9" x2="126.0" y2="1074.9" stroke="#111" stroke-width="2.4"/>
<line x1="112.5" y1="963.3" x2="126.0" y2="963.3" stroke="#111" stroke-width="2.4"/>
<line x1="112.5" y1="851.7" x2="126.0" y2="851.7" stroke="#111" stroke-width="2.4"/>
<line x1="112.5" y1="1130.7" x2="120.5" y2="1130.7" stroke="#111" stroke-width="2.4"/>
<line x1="112.5" y1="1019.1" x2="120.5" y2="1019.1" stroke="#111" stroke-width="2.4"/>
<line x1="112.5" y1="907.5" x2="120.5" y2="907.5" stroke="#111" stroke-width="2.4"/>
<line x1="839.4" y1="1025.5" x2="825.9" y2="1025.5" stroke="#111" stroke-width="2.4"/>
<line x1="839.4" y1="864.5" x2="825.9" y2="864.5" stroke="#111" stroke-width="2.4"/>
<line x1="839.4" y1="1106.0" x2="831.4" y2="1106.0" stroke="#111" stroke-width="2.4"/>
<line x1="839.4" y1="945.0" x2="831.4" y2="945.0" stroke="#111" stroke-width="2.4"/>
<text x="102.8" y="311.2" font-size="36" text-anchor="end" >40</text>
<text x="102.8" y="169.6" font-size="36" text-anchor="end" >60</text>
<text x="102.8" y="28.0" font-size="36" text-anchor="end" >80</text>
<text x="102.8" y="808.9" font-size="36" text-anchor="end" >0</text>
<text x="102.8" y="722.0" font-size="36" text-anchor="end" >100</text>
<text x="102.8" y="635.1" font-size="36" text-anchor="end" >200</text>
<text x="102.8" y="548.2" font-size="36" text-anchor="end" >300</text>
<text x="102.8" y="461.3" font-size="36" text-anchor="end" >400</text>
<text x="102.8" y="1199.4" font-size="36" text-anchor="end" >0</text>
<text x="102.8" y="1087.8" font-size="36" text-anchor="end" >10</text>
<text x="102.8" y="976.2" font-size="36" text-anchor="end" >20</text>
<text x="102.8" y="864.6" font-size="36" text-anchor="end" >30</text>
<text x="847.5" y="808.9" font-size="36" text-anchor="start" >0</text>
<text x="847.5" y="637.8" font-size="36" text-anchor="start" >10</text>
<text x="847.5" y="466.7" font-size="36" text-anchor="start" >20</text>
<text x="847.5" y="1199.4" font-size="36" text-anchor="start" >0</text>
<text x="847.5" y="1038.4" font-size="36" text-anchor="start" >2</text>
<text x="847.5" y="877.4" font-size="36" text-anchor="start" >4</text>
<text x="112.6" y="1227.8" font-size="36" text-anchor="middle" >0</text>
<text x="339.7" y="1227.8" font-size="36" text-anchor="middle" >100</text>
<text x="566.7" y="1227.8" font-size="36" text-anchor="middle" >200</text>
<text x="793.8" y="1227.8" font-size="36" text-anchor="middle" >300</text>
<text x="115.5" y="46.5" font-size="36" text-anchor="start" >(a)</text>
<text x="137.5" y="463.5" font-size="36" text-anchor="start" >(b)</text>
<text x="136.5" y="852.0" font-size="36" text-anchor="start" >(c)</text>
<text x="476.0" y="1268.0" font-size="36" text-anchor="middle" >Time (d)</text>
<text transform="translate(28.7 211.6) rotate(-90)" font-size="36" text-anchor="middle">Temperature (<tspan dy="-2.6">º</tspan><tspan dy="2.6">C</tspan><tspan dx="2">)</tspan></text>
<text transform="translate(31 599.5) rotate(-90)" font-size="36" text-anchor="middle">H<tspan font-size="23" dy="9">2</tspan><tspan dy="-9"> Evol. Rate (nmol d</tspan><tspan font-size="21" dy="-11">-1</tspan><tspan dy="11" dx="2">)</tspan></text>
<text transform="translate(29.8 991.5) rotate(-90)" font-size="36" text-anchor="middle">Cumulative H<tspan font-size="23" dy="9">2</tspan><tspan dy="-9"> (µmol)</tspan></text>
<text transform="translate(908 602.5) rotate(90)" font-size="36" text-anchor="middle">Corros. Rate (nm a<tspan font-size="21" dy="-10.5">-1</tspan><tspan dy="10.5" dx="3">)</tspan></text>
<text transform="translate(908 990.6) rotate(90)" font-size="36" text-anchor="middle">Cumul. Corros. (nm)</text>
<line x1="526" y1="318.6" x2="596.3" y2="318.6" stroke="#d63841" stroke-width="2.8"/>
<path d="M561.7 308.7L571.6 318.6L561.7 328.5L551.8 318.6Z" fill="#e01e24" stroke="#000" stroke-width="2.4"/>
<line x1="529.5" y1="364.1" x2="593.5" y2="364.1" stroke="#4a84c0" stroke-width="2.8"/>
<circle cx="561.6" cy="364.1" r="15.3" fill="#3a7bbb" stroke="#000" stroke-width="2.5"/>
<text x="626.0" y="328.0" font-size="28.5" text-anchor="start" >0.25 mol kg-1</text>
<text x="626.0" y="373.0" font-size="28.5" text-anchor="start" >2.5 mol kg-1</text>
</g></svg>
</body></html>
